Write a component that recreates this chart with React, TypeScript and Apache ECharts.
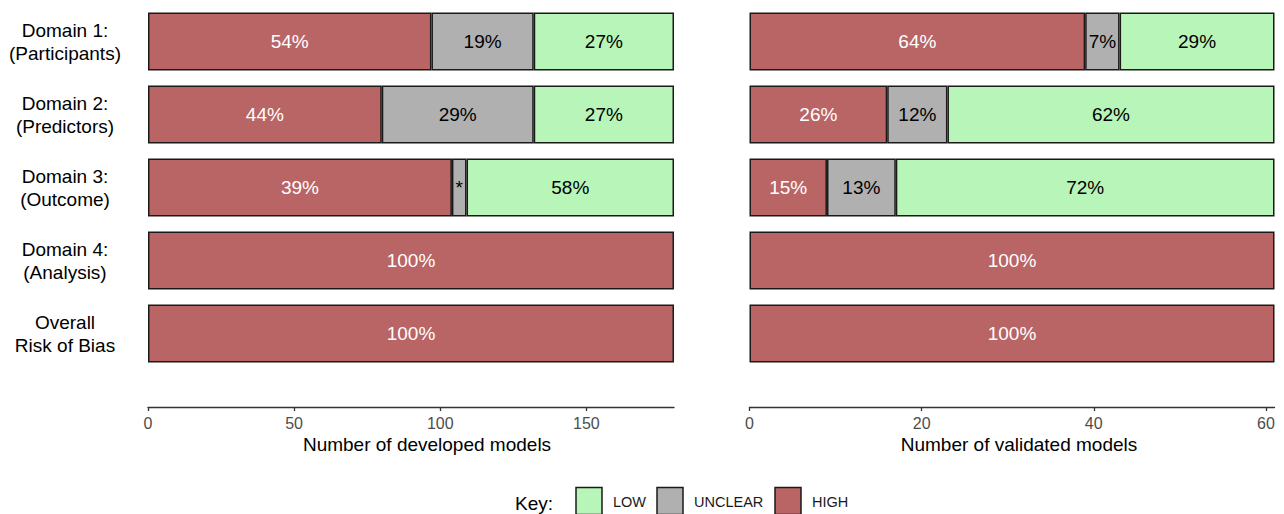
import React, { useEffect, useRef } from "react";
import * as echarts from "echarts";

const categories = [
  "Domain 1:\n(Participants)",
  "Domain 2:\n(Predictors)",
  "Domain 3:\n(Outcome)",
  "Domain 4:\n(Analysis)",
  "Overall\nRisk of Bias",
];

// Developed models (total 180)
const devHigh = [97, 80, 104, 180, 180];
const devUnclear = [35, 52, 5, 0, 0];
const devLow = [48, 48, 71, 0, 0];
const devHighLabels = ["54%", "44%", "39%", "100%", "100%"];
const devUnclearLabels = ["19%", "29%", "*", "", ""];
const devLowLabels = ["27%", "27%", "58%", "", ""];

// Validated models (total 61)
const valHigh = [39, 16, 9, 61, 61];
const valUnclear = [4, 7, 8, 0, 0];
const valLow = [18, 38, 44, 0, 0];
const valHighLabels = ["64%", "26%", "15%", "100%", "100%"];
const valUnclearLabels = ["7%", "12%", "13%", "", ""];
const valLowLabels = ["29%", "62%", "72%", "", ""];

const devTicks = [0, 50, 100, 150];
const valTicks = [0, 20, 40, 60];
const devMax = 180;
const valMax = 61;

const FONT = "'Liberation Sans', Arial, Helvetica, sans-serif";
const C_HIGH = "#B96565";
const C_UNCLEAR = "#B0B0B0";
const C_LOW = "#B8F5B8";
const C_BORDER = "#1A1A1A";

function mkSeries(
  name: string,
  values: number[],
  labels: string[],
  color: string,
  labelColor: string,
  idx: number,
  stack: string
) {
  return {
    name,
    type: "bar",
    stack,
    xAxisIndex: idx,
    yAxisIndex: idx,
    barWidth: 58,
    data: values.map((v) => (v === 0 ? null : v)),
    itemStyle: { color, borderColor: C_BORDER, borderWidth: 1.5 },
    label: {
      show: true,
      position: "inside",
      color: labelColor,
      fontSize: 19,
      fontFamily: FONT,
      formatter: (p: any) => labels[p.dataIndex] || "",
    },
    emphasis: { disabled: true },
  };
}

function mkXAxis(idx: number, max: number, ticks: number[]) {
  return {
    type: "value",
    gridIndex: idx,
    min: 0,
    max,
    position: "bottom",
    offset: 37,
    splitLine: { show: false },
    axisLine: { show: true, lineStyle: { color: "#333333", width: 1.3 } },
    axisTick: {
      show: true,
      length: 4,
      customValues: ticks,
      lineStyle: { color: "#333333", width: 1.3 },
    },
    axisLabel: {
      show: true,
      customValues: ticks,
      margin: 8,
      color: "#4D4D4D",
      fontSize: 16,
      fontFamily: FONT,
    },
  };
}

export default function App() {
  const ref = useRef<HTMLDivElement>(null);
  useEffect(() => {
    if (!ref.current) return;
    const chart = echarts.init(ref.current, undefined, { renderer: "svg" });
    const legendItems = [
      { box: 576, text: 613, color: C_LOW, label: "LOW" },
      { box: 657, text: 694, color: C_UNCLEAR, label: "UNCLEAR" },
      { box: 775, text: 812, color: C_HIGH, label: "HIGH" },
    ];
    const graphics: any[] = [
      {
        type: "text",
        x: 427,
        y: 444,
        style: {
          text: "Number of developed models",
          fill: "#000",
          font: `19px ${FONT}`,
          textAlign: "center",
          textVerticalAlign: "middle",
        },
      },
      {
        type: "text",
        x: 1019,
        y: 444,
        style: {
          text: "Number of validated models",
          fill: "#000",
          font: `19px ${FONT}`,
          textAlign: "center",
          textVerticalAlign: "middle",
        },
      },
      {
        type: "text",
        x: 553,
        y: 503,
        style: {
          text: "Key:",
          fill: "#000",
          font: `19px ${FONT}`,
          textAlign: "right",
          textVerticalAlign: "middle",
        },
      },
    ];
    legendItems.forEach((it) => {
      graphics.push({
        type: "rect",
        shape: { x: it.box, y: 487.5, width: 26, height: 27 },
        style: { fill: it.color, stroke: C_BORDER, lineWidth: 1.5 },
      });
      graphics.push({
        type: "text",
        x: it.text,
        y: 502,
        style: {
          text: it.label,
          fill: "#1A1A1A",
          font: `14.5px ${FONT}`,
          textAlign: "left",
          textVerticalAlign: "middle",
        },
      });
    });

    chart.setOption({
      animation: false,
      backgroundColor: "#FFFFFF",
      textStyle: { fontFamily: FONT },
      grid: [
        { left: 148, top: 5, width: 526, height: 365 },
        { left: 749.5, top: 5, width: 525, height: 365 },
      ],
      xAxis: [mkXAxis(0, devMax, devTicks), mkXAxis(1, valMax, valTicks)],
      yAxis: [
        {
          type: "category",
          gridIndex: 0,
          data: categories,
          inverse: true,
          axisLine: { show: false },
          axisTick: { show: false },
          axisLabel: {
            show: true,
            align: "center",
            margin: 83,
            fontSize: 19,
            lineHeight: 23,
            color: "#000",
            fontFamily: FONT,
          },
        },
        {
          type: "category",
          gridIndex: 1,
          data: categories,
          inverse: true,
          axisLine: { show: false },
          axisTick: { show: false },
          axisLabel: { show: false },
        },
      ],
      series: [
        mkSeries("HIGH", devHigh, devHighLabels, C_HIGH, "#FFFFFF", 0, "dev"),
        mkSeries("UNCLEAR", devUnclear, devUnclearLabels, C_UNCLEAR, "#000000", 0, "dev"),
        mkSeries("LOW", devLow, devLowLabels, C_LOW, "#000000", 0, "dev"),
        mkSeries("HIGH", valHigh, valHighLabels, C_HIGH, "#FFFFFF", 1, "val"),
        mkSeries("UNCLEAR", valUnclear, valUnclearLabels, C_UNCLEAR, "#000000", 1, "val"),
        mkSeries("LOW", valLow, valLowLabels, C_LOW, "#000000", 1, "val"),
      ],
      graphic: graphics,
    });
    return () => chart.dispose();
  }, []);
  return (
    <div
      ref={ref}
      style={{ position: "fixed", left: 0, top: 0, width: 1284, height: 514 }}
    />
  );
}
